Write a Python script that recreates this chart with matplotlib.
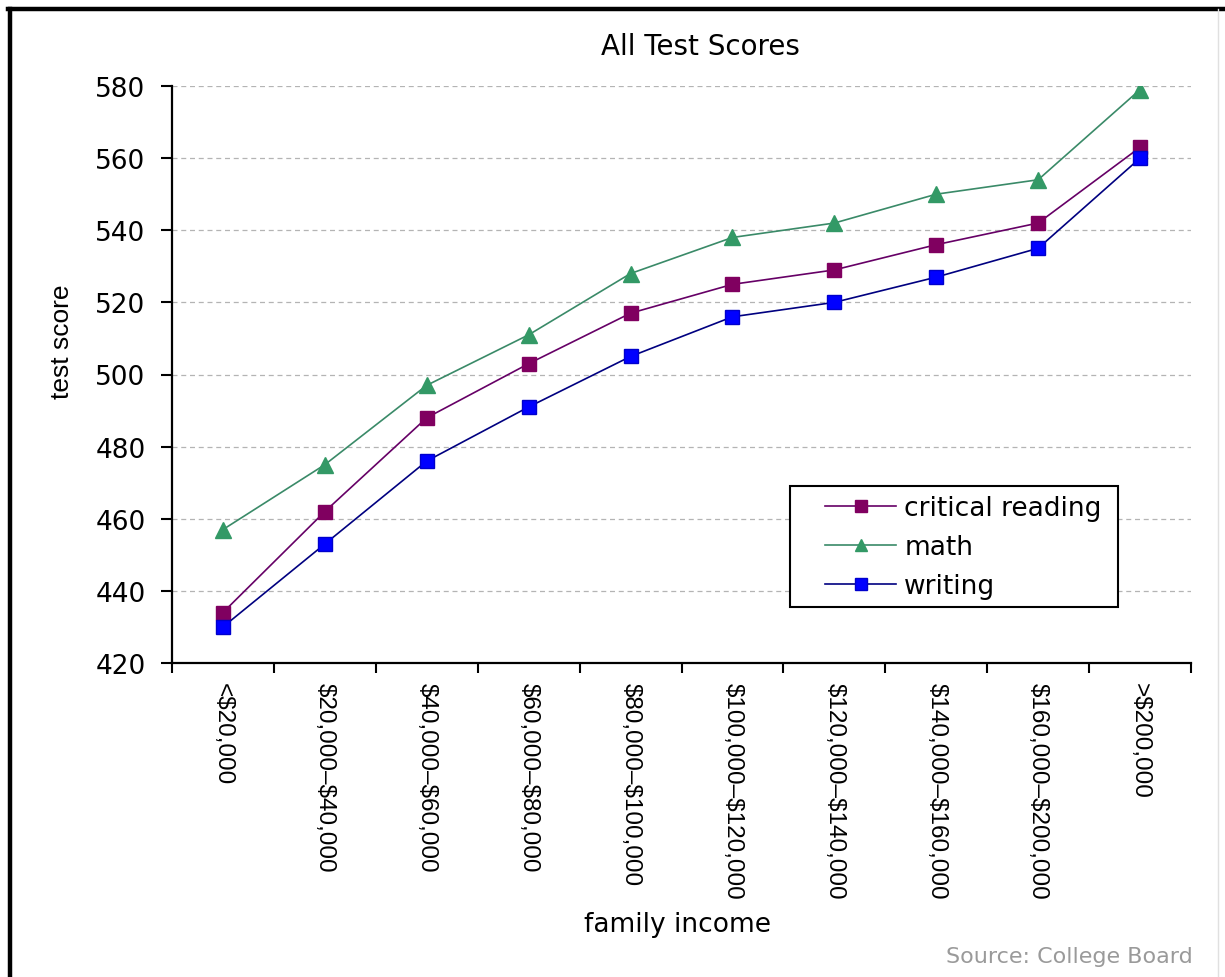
import matplotlib
matplotlib.use("Agg")
import matplotlib.pyplot as plt
from matplotlib.lines import Line2D
from matplotlib.patches import Rectangle

plt.rcParams["text.parse_math"] = False

categories = ["<$20,000", "$20,000\u2013$40,000", "$40,000\u2013$60,000", "$60,000\u2013$80,000",
              "$80,000\u2013$100,000", "$100,000\u2013$120,000", "$120,000\u2013$140,000",
              "$140,000\u2013$160,000", "$160,000\u2013$200,000", ">$200,000"]
critical_reading = [434, 462, 488, 503, 517, 525, 529, 536, 542, 563]
math_scores = [457, 475, 497, 511, 528, 538, 542, 550, 554, 579]
writing = [430, 453, 476, 491, 505, 516, 520, 527, 535, 560]
y_ticks = [420, 440, 460, 480, 500, 520, 540, 560, 580]

W, H = 1225, 978
fig = plt.figure(figsize=(W / 100, H / 100), dpi=100)
fig.patch.set_facecolor("white")

ax_left, ax_right = 172 / W, 1191 / W
ax_bottom, ax_top = 1 - 664 / H, 1 - 87 / H
ax = fig.add_axes([ax_left, ax_bottom, ax_right - ax_left, ax_top - ax_bottom])

x = list(range(len(categories)))

ax.plot(x, critical_reading, color="#660066", lw=1.2, marker="s", ms=10,
        markerfacecolor="#800060", markeredgecolor="#800060", label="critical reading", zorder=3)
ax.plot(x, math_scores, color="#3a8a68", lw=1.2, marker="^", ms=11,
        markerfacecolor="#339966", markeredgecolor="#339966", label="math", zorder=3)
ax.plot(x, writing, color="#000080", lw=1.2, marker="s", ms=10,
        markerfacecolor="#0000ff", markeredgecolor="#0000cc", label="writing", zorder=3)

ax.set_xlim(-0.5, len(categories) - 0.5)
ax.set_ylim(y_ticks[0], y_ticks[-1])

for sp in ["top", "right"]:
    ax.spines[sp].set_visible(False)
for sp in ["left", "bottom"]:
    ax.spines[sp].set_linewidth(1.6)
    ax.spines[sp].set_color("black")

ax.set_yticks(y_ticks)
ax.set_yticklabels([str(v) for v in y_ticks], fontsize=19, family="DejaVu Sans")
ax.tick_params(axis="y", direction="out", length=8, width=1.5, pad=11)

# gridlines
for v in y_ticks[1:]:
    ax.axhline(v, color="#b4b4b4", lw=0.9, ls=(0, (4, 3)), zorder=1)

# category boundaries as major ticks, category centers as labelled minor ticks
ax.set_xticks([i - 0.5 for i in range(len(categories) + 1)])
ax.set_xticklabels([])
ax.tick_params(axis="x", which="major", direction="out", length=7, width=1.5)
ax.set_xticks(x, minor=True)
ax.set_xticklabels(categories, minor=True, rotation=-90, fontsize=17.5,
                   family="Liberation Sans", va="top", ha="center")
ax.tick_params(axis="x", which="minor", length=0, pad=14)

# legend frame drawn separately, legend contents placed inside
fig.add_artist(Rectangle((790 / W, 1 - 608 / H), (1118 - 790) / W, (608 - 487) / H,
                         transform=fig.transFigure, facecolor="white", edgecolor="black",
                         lw=1.5, zorder=4))
leg = fig.legend(loc="upper left", bbox_to_anchor=(825 / W, 1 - 496 / H),
                 prop={"family": "DejaVu Sans", "size": 19}, frameon=False,
                 handlelength=2.7, handletextpad=0.3, markerscale=0.85,
                 labelspacing=0.5, borderpad=0.0, borderaxespad=0)
leg.set_zorder(5)

fig.text(700 / W, 1 - 47 / H, "All Test Scores", ha="center", va="center",
         fontsize=20, family="DejaVu Sans")
fig.text(678 / W, 1 - 925 / H, "family income", ha="center", va="center",
         fontsize=19, family="DejaVu Sans")
fig.text(62 / W, 1 - 342 / H, "test score", ha="center", va="center", rotation=90,
         fontsize=19, family="Liberation Sans")
fig.text(1193 / W, 1 - 957 / H, "Source: College Board", ha="right", va="center",
         fontsize=16, family="DejaVu Sans", color="#9a9a9a")

# outer frame (left and top thick black border)
bx, by = 9.5 / W, 1 - 9.5 / H
fig.add_artist(Line2D([bx, bx], [0, by], transform=fig.transFigure, color="black", lw=3.2))
fig.add_artist(Line2D([bx - 1.6 / W, 1], [by, by], transform=fig.transFigure, color="black", lw=3.2))
fig.add_artist(Line2D([1218 / W, 1218 / W], [0, by], transform=fig.transFigure, color="#e0e0e0", lw=1))

fig.savefig("out.png", dpi=100, facecolor="white")
